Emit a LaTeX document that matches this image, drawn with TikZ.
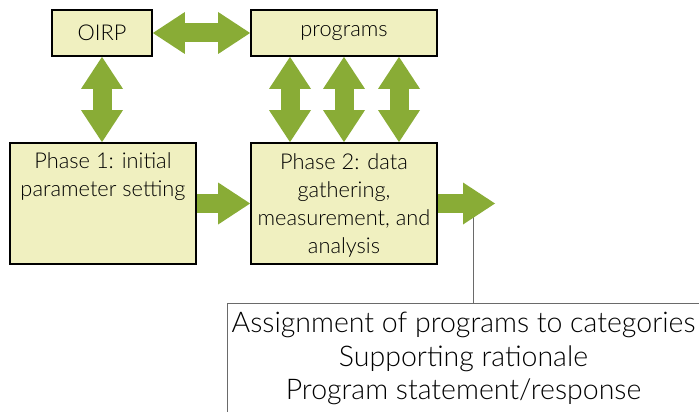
\documentclass[tikz,border=0pt]{standalone}
\usepackage{fontspec}
\setmainfont{Lato Light}
\usetikzlibrary{arrows.meta}
\definecolor{boxfill}{HTML}{F0F0C0}
\definecolor{leaf}{HTML}{89AC36}
\definecolor{rule}{HTML}{6A6A6A}

\begin{document}
\begin{tikzpicture}[x=1pt,y=-1pt,
    stage/.style={draw=black, line width=1.8pt, fill=boxfill, inner sep=0pt,
        align=center, font=\fontsize{21.8}{28}\selectfont},
    tipfat/.tip={Triangle[length=32pt,width=42pt,line width=0pt,fill=leaf]},
    fat/.style={draw=leaf, line width=19pt, -tipfat},
    fatboth/.style={draw=leaf, line width=19pt, tipfat-tipfat},
    result/.style={draw=rule, line width=0.9pt, fill=white, inner sep=0pt,
        align=center, font=\fontsize{28.5}{33.5}\selectfont}]
    \useasboundingbox (0,0) rectangle (699,412);

    \node[stage, minimum width=100pt, minimum height=46pt] (oirp) at (102,33) {OIRP};
    \node[stage, minimum width=186pt, minimum height=46pt] (prog) at (344,33) {programs};
    \node[stage, minimum width=186pt, minimum height=121pt] (ph1) at (103,203.5)
        {\parbox[t][101pt][t]{184pt}{\centering Phase 1: initial\\parameter setting}};
    \node[stage, minimum width=186pt, minimum height=121pt] (ph2) at (344,203.5)
        {\parbox[c][117pt][c]{184pt}{\centering\vspace*{3pt}Phase 2: data\\gathering,\\measurement, and\\analysis}};

    \node[result, minimum width=473pt, minimum height=111pt] (out) at (463.5,358.5)
        {Assignment of programs to categories\\Supporting rationale\\Program statement/response};

    \coordinate (tip) at (495,203.5);
    \coordinate (drop) at (473,203.5);
    \draw[rule, line width=0.9pt] (drop) -- (drop |- out.north);

    \draw[fatboth] (oirp.east) -- (prog.west);
    \draw[fatboth] (oirp.south) -- (oirp.south |- ph1.north);
    \foreach \dx in {-54,0,55}
        \draw[fatboth] ([xshift=\dx pt]prog.south) -- ([xshift=\dx pt]ph2.north);
    \draw[fat] (ph1.east) -- (ph2.west);
    \draw[fat] (ph2.east) -- (tip);
\end{tikzpicture}
\end{document}
